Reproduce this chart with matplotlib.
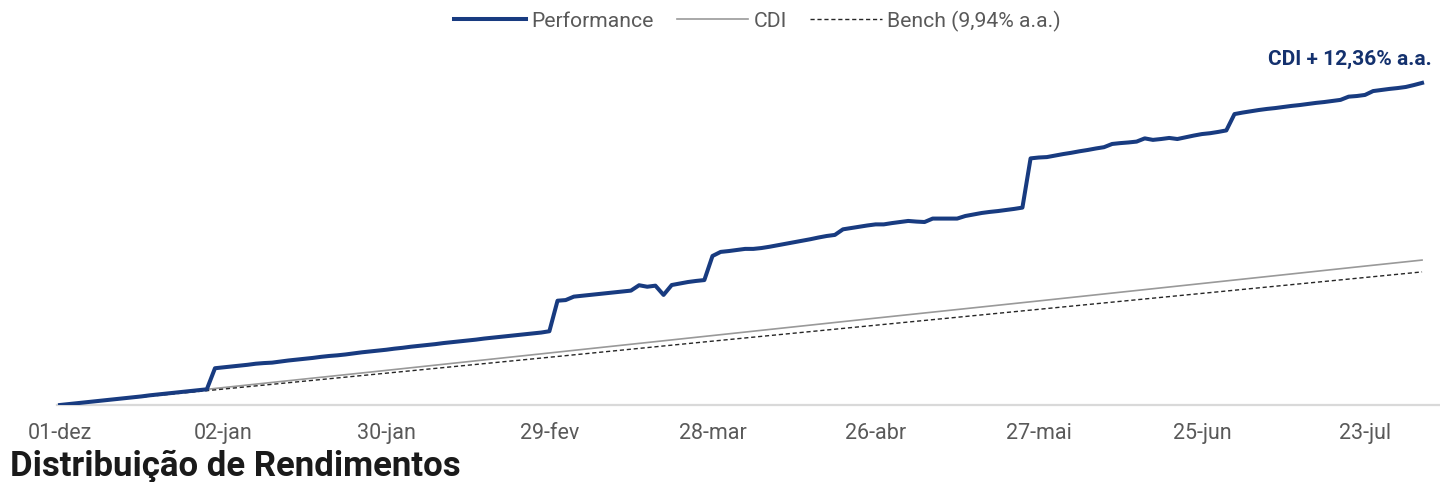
import matplotlib.pyplot as plt
import numpy as np

plt.rcParams['font.family'] = ['Roboto', 'DejaVu Sans']

# rentabilidade acumulada (%) por dia util, 01-dez a fim de jul
perf = [0.00, 0.04, 0.08, 0.12, 0.16, 0.20, 0.24, 0.28, 0.32, 0.36,
        0.40, 0.45, 0.49, 0.53, 0.57, 0.61, 0.65, 0.69, 0.73, 1.71,
        1.75, 1.79, 1.83, 1.87, 1.92, 1.95, 1.97, 2.02, 2.07, 2.11,
        2.15, 2.19, 2.24, 2.28, 2.31, 2.35, 2.40, 2.45, 2.49, 2.53,
        2.57, 2.62, 2.66, 2.71, 2.75, 2.79, 2.83, 2.88, 2.92, 2.96,
        3.00, 3.04, 3.09, 3.13, 3.17, 3.21, 3.25, 3.29, 3.33, 3.37,
        3.43, 4.85, 4.88, 5.04, 5.08, 5.12, 5.16, 5.20, 5.24, 5.28,
        5.32, 5.57, 5.50, 5.55, 5.12, 5.58, 5.65, 5.72, 5.77, 5.81,
        6.93, 7.12, 7.16, 7.21, 7.26, 7.26, 7.30, 7.36, 7.43, 7.50,
        7.57, 7.64, 7.71, 7.79, 7.86, 7.91, 8.17, 8.23, 8.29, 8.35,
        8.40, 8.40, 8.46, 8.51, 8.56, 8.53, 8.51, 8.67, 8.67, 8.67,
        8.67, 8.79, 8.86, 8.93, 8.98, 9.02, 9.07, 9.12, 9.18, 11.47,
        11.51, 11.53, 11.60, 11.67, 11.73, 11.80, 11.86, 11.93, 11.99, 12.14,
        12.18, 12.21, 12.25, 12.40, 12.33, 12.37, 12.42, 12.37, 12.45, 12.53,
        12.60, 12.64, 12.70, 12.77, 13.53, 13.60, 13.66, 13.72, 13.77, 13.81,
        13.86, 13.91, 13.95, 14.00, 14.05, 14.09, 14.14, 14.19, 14.34, 14.37,
        14.42, 14.60, 14.65, 14.70, 14.74, 14.79, 14.88, 14.98]

ref_idx = [0, 20, 40, 60, 80, 100, 120, 140, 160, 167]
cdi = [0.00, 0.81, 1.61, 2.42, 3.23, 4.04, 4.84, 5.65, 6.46, 6.74]
bench = [0.00, 0.74, 1.48, 2.22, 2.97, 3.71, 4.45, 5.19, 5.93, 6.19]

tick_idx = [0, 20, 40, 60, 80, 100, 120, 140, 160]
tick_lab = ['01-dez', '02-jan', '30-jan', '29-fev', '28-mar', '26-abr', '27-mai', '25-jun', '23-jul']

navy = '#183b80'
grey_txt = '#595959'

fig = plt.figure(figsize=(14.4, 4.82), dpi=100)
ax = fig.add_axes([57/1440, 1 - 405/482, 1 - 57/1440, 335/482])

x = np.arange(len(perf))
ax.plot(x, perf, color=navy, lw=2.9, label='Performance', solid_joinstyle='round', zorder=3)
ax.plot(ref_idx, cdi, color='#999999', lw=1.2, label='CDI', zorder=2)
ax.plot(ref_idx, bench, color='#262626', lw=1.0, ls=(0, (3, 2)), label='Bench (9,94% a.a.)', zorder=2)

ax.set_xlim(-0.37, 169.2)
ax.set_ylim(0, 15.58)

for s in ['top', 'right', 'left']:
    ax.spines[s].set_visible(False)
ax.spines['bottom'].set_color('#d9d9d9')
ax.spines['bottom'].set_linewidth(1.6)
ax.set_yticks([])
ax.set_xticks(tick_idx)
ax.set_xticklabels(tick_lab, fontsize=15.5, color=grey_txt)
ax.tick_params(axis='x', length=0, pad=13)

ax.annotate('CDI + 12,36% a.a.', xy=(x[-1], perf[-1]), xytext=(7, 17),
            textcoords='offset points', ha='right', va='center',
            fontsize=15, fontweight='bold', color='#14316e')

fig.legend(loc='center', bbox_to_anchor=(757.5/1440, 1 - 21/482), ncol=3, frameon=False,
           fontsize=15.2, labelcolor=grey_txt, handlelength=3.4, handletextpad=0.25,
           columnspacing=1.1)

fig.text(10/1440, 1 - 476/482, 'Distribuição de Rendimentos', fontsize=25,
         fontweight='bold', color='#1a1a1a', va='baseline', ha='left')

fig.savefig('out.png', dpi=100)
